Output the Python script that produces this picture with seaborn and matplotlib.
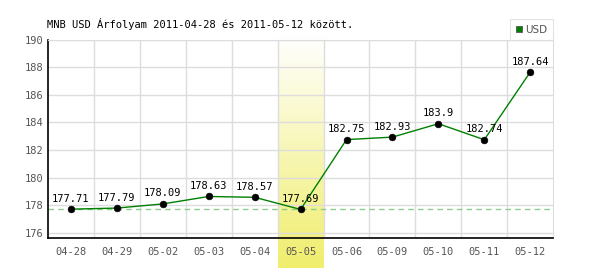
import numpy as np
import pandas as pd
import matplotlib
matplotlib.use("Agg")
import matplotlib.pyplot as plt
import matplotlib.patches as mpatches
from matplotlib.colors import LinearSegmentedColormap
import seaborn as sns

dates = ["04-28", "04-29", "05-02", "05-03", "05-04", "05-05",
         "05-06", "05-09", "05-10", "05-11", "05-12"]
usd = [177.71, 177.79, 178.09, 178.63, 178.57, 177.69,
       182.75, 182.93, 183.9, 182.74, 187.64]
ref_value = 177.71
highlight = "05-05"
title = "MNB USD Árfolyam 2011-04-28 és 2011-05-12 között."

df = pd.DataFrame({"pos": np.arange(len(dates)), "date": dates, "usd": usd})

sns.set_style("white")
plt.rcParams["font.family"] = ["DejaVu Sans Mono", "DejaVu Sans"]

fig = plt.figure(figsize=(6, 2.7), dpi=100)
ax = fig.add_axes([0.08, 0.1174, 0.842, 0.7363])

ylo, yhi = 175.6, 190.0
hi_idx = dates.index(highlight)
grad = np.linspace(0, 1, 256).reshape(-1, 1)
cmap = LinearSegmentedColormap.from_list("yb", ["#ffffff", "#f0ee6c"])
ax.imshow(grad, extent=(hi_idx - 0.5, hi_idx + 0.5, 173.45, 190.3),
          origin="upper", cmap=cmap, aspect="auto", clip_on=False, zorder=0)

for yv in np.arange(176, 191, 2):
    ax.axhline(yv, color="#dddddd", linewidth=1, zorder=0.5)
for xv in np.arange(0.5, len(dates) - 0.5, 1):
    ax.axvline(xv, color="#dddddd", linewidth=1, zorder=0.5)

ax.axhline(ref_value, color="#8fcc8f", linestyle=(0, (4, 3)), linewidth=1.0, zorder=1)

sns.lineplot(data=df, x="pos", y="usd", ax=ax, color="#008000", linewidth=1.0, zorder=3)
sns.scatterplot(data=df, x="pos", y="usd", ax=ax, color="black", s=24,
                edgecolor="black", zorder=4)

for x, v in zip(df["pos"], df["usd"]):
    ax.annotate(f"{v:g}", (x, v), xytext=(0, 4), textcoords="offset points",
                ha="center", va="bottom", fontsize=7.5, color="black", zorder=5)

ax.set_xlim(-0.5, len(dates) - 0.5)
ax.set_ylim(ylo, yhi)
ax.set_xticks(df["pos"])
ax.set_xticklabels(dates)
ax.set_yticks(np.arange(176, 191, 2))
ax.grid(False)
ax.set_xlabel("")
ax.set_ylabel("")
ax.tick_params(axis="both", which="both", length=0, labelsize=7.5, labelcolor="#555555")
ax.tick_params(axis="x", pad=6)
ax.tick_params(axis="y", pad=3)
ax.patch.set_alpha(0)
for s in ["top", "right"]:
    ax.spines[s].set_color("#dddddd")
for s in ["left", "bottom"]:
    ax.spines[s].set_color("black")
    ax.spines[s].set_linewidth(1.2)

fig.text(0.078, 0.91, title, fontsize=7.5, color="black", va="center", ha="left")

handle = mpatches.Patch(facecolor="#008000", edgecolor="#555555", linewidth=0.6, label="USD")
leg = fig.legend(handles=[handle], loc="upper right", bbox_to_anchor=(0.9217, 0.93),
                 frameon=True, fancybox=False, handlelength=0.6,
                 handleheight=0.6, handletextpad=0.3, borderpad=0.55,
                 borderaxespad=0, prop={"family": "DejaVu Sans", "size": 7.5})
leg.get_frame().set_edgecolor("#dddddd")
leg.get_frame().set_linewidth(0.8)
for t in leg.get_texts():
    t.set_color("#555555")

fig.savefig("out.png", dpi=100)
